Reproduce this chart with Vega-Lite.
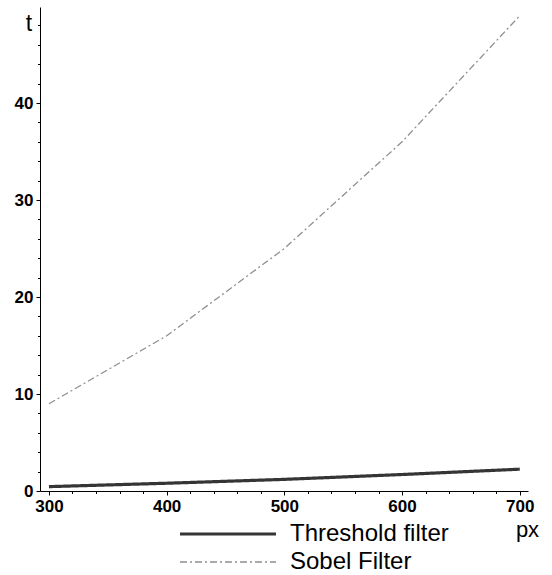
{
  "$schema": "https://vega.github.io/schema/vega-lite/v6.json",
  "width": 488,
  "height": 484,
  "autosize": {"type": "none"},
  "padding": {"left": 40, "top": 7, "right": 24, "bottom": 84},
  "background": "white",
  "data": {"values": [
    {"px": 300, "t": 0.45, "series": "Threshold filter"},
    {"px": 400, "t": 0.8, "series": "Threshold filter"},
    {"px": 500, "t": 1.2, "series": "Threshold filter"},
    {"px": 600, "t": 1.7, "series": "Threshold filter"},
    {"px": 700, "t": 2.25, "series": "Threshold filter"},
    {"px": 300, "t": 9, "series": "Sobel Filter"},
    {"px": 400, "t": 16, "series": "Sobel Filter"},
    {"px": 500, "t": 25, "series": "Sobel Filter"},
    {"px": 600, "t": 36, "series": "Sobel Filter"},
    {"px": 700, "t": 49, "series": "Sobel Filter"}
  ]},
  "mark": {"type": "line", "clip": false},
  "encoding": {
    "x": {
      "field": "px", "type": "quantitative",
      "scale": {"domain": [292.4, 707], "nice": false, "zero": false},
      "axis": {
        "values": [300,320,340,360,380,400,420,440,460,480,500,520,540,560,580,600,620,640,660,680,700],
        "labelExpr": "datum.value % 100 === 0 ? datum.label : ''",
        "tickSize": {"condition": {"test": "datum.value % 100 === 0", "value": 4}, "value": 2.5},
        "title": "px", "titleAngle": 0, "titleX": 487, "titleY": 45, "titleFontSize": 22,
        "titleBaseline": "alphabetic", "titleAlign": "center",
        "labelPadding": 3, "grid": false
      }
    },
    "y": {
      "field": "t", "type": "quantitative",
      "scale": {"domain": [0, 49.9], "nice": false},
      "axis": {
        "values": [0,2,4,6,8,10,12,14,16,18,20,22,24,26,28,30,32,34,36,38,40,42,44,46,48],
        "labelExpr": "datum.value % 10 === 0 ? datum.label : ''",
        "tickSize": {"condition": {"test": "datum.value % 10 === 0", "value": 4}, "value": 2.5},
        "title": "t", "titleAngle": 0, "titleX": -11.5, "titleY": 23,
        "titleBaseline": "alphabetic", "titleAlign": "center",
        "labelPadding": 3, "grid": false
      }
    },
    "color": {
      "field": "series", "type": "nominal",
      "scale": {"domain": ["Threshold filter", "Sobel Filter"], "range": ["#353535", "#8f8f8f"]}
    },
    "strokeDash": {
      "field": "series", "type": "nominal",
      "scale": {"domain": ["Threshold filter", "Sobel Filter"], "range": [[1, 0], [7, 3, 2, 3]]}
    },
    "strokeWidth": {
      "field": "series", "type": "nominal",
      "scale": {"domain": ["Threshold filter", "Sobel Filter"], "range": [3.2, 1.3]}
    }
  },
  "config": {
    "view": {"stroke": null},
    "font": "Liberation Sans",
    "axis": {
      "domainColor": "black", "domainWidth": 1, "tickColor": "black", "tickWidth": 1,
      "labelFont": "Liberation Sans", "labelFontSize": 17, "labelFontWeight": "bold", "labelColor": "black",
      "titleFont": "Liberation Sans", "titleFontSize": 23, "titleFontWeight": "normal", "titleColor": "black"
    },
    "legend": {
      "orient": "none", "legendX": 174, "legendY": 513,
      "title": null,
      "symbolType": "M-4,0H4",
      "symbolSize": 576,
      "labelOffset": 48,
      "labelFont": "Liberation Sans", "labelFontSize": 24, "labelColor": "black",
      "rowPadding": 3,
      "padding": 0
    }
  }
}
